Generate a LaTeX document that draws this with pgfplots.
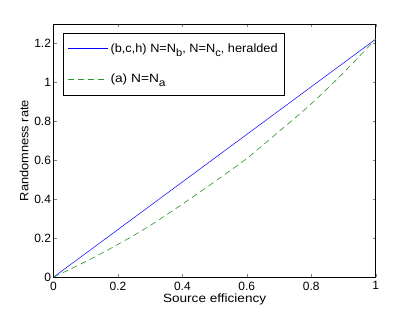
\documentclass[border=0pt]{standalone}
\usepackage{graphicx}
\usepackage{pgfplots}
\pgfplotsset{compat=1.18}
\usepackage{fontspec}
\setmainfont{Liberation Sans}
\definecolor{mgreen}{RGB}{40,150,40}
\definecolor{mblue}{RGB}{0,0,255}
\newcommand{\sub}[1]{\raisebox{-4pt}{\fontsize{10.5}{11}\selectfont #1}}
\newcommand{\wbox}[2]{\resizebox{#1}{\height}{#2}}
\begin{document}
\begin{tikzpicture}
\begin{axis}[
  name=ax,
  scale only axis,
  width=322pt, height=253pt,
  xmin=0, xmax=1, ymin=0, ymax=1.3,
  xtick={0,0.2,0.4,0.6,0.8,1},
  ytick={0,0.2,0.4,0.6,0.8,1,1.2},
  tick align=inside,
  major tick length=3pt,
  /pgf/number format/assume math mode=true,
  ticklabel style={font=\fontsize{12}{14}\selectfont},
  xticklabel style={yshift=-1pt},
  yticklabel style={xshift=1pt},
  xlabel={\fontsize{12}{14}\selectfont\wbox{103pt}{Source efficiency}},
  ylabel={\fontsize{12}{14}\selectfont\wbox{101pt}{Randomness rate}},
  xlabel style={yshift=3pt},
  ylabel style={yshift=-1pt},
  legend style={at={(0.0286,0.966)}, anchor=north west, draw=black,
    row sep=16pt, inner xsep=5pt, inner ysep=9pt,
    nodes={inner xsep=2pt}},
  legend cell align=left,
  legend image code/.code={\draw[#1] (0pt,0.3pt) -- (40pt,0.3pt);},
]
\addlegendimage{draw=mblue, line width=0.6pt}
\addlegendentry{\fontsize{12}{14}\selectfont\wbox{167pt}{(b,c,h) N=N\sub{b}, N=N\sub{c}, heralded}}
\addlegendimage{draw=mgreen, line width=0.6pt, dash pattern=on 6pt off 4pt}
\addlegendentry{\fontsize{12}{14}\selectfont\wbox{55pt}{(a) N=N\sub{a}}}
\addplot[draw=mblue, line width=0.5pt, forget plot] coordinates {(0,0) (1,1.222)};
\addplot[draw=mgreen, line width=0.6pt, dash pattern=on 6pt off 4pt, smooth, forget plot] coordinates {
(0,0) (0.1,0.08) (0.2,0.168) (0.3,0.265) (0.4,0.375) (0.5,0.49) (0.6,0.61) (0.7,0.748) (0.8,0.89) (0.9,1.05) (1.0,1.222)};
\end{axis}
\pgfresetboundingbox
\path[use as bounding box] ([shift={(-53.5pt,-35pt)}]ax.south west) rectangle ([shift={(39.3pt,24pt)}]ax.north east);
\end{tikzpicture}
\end{document}
